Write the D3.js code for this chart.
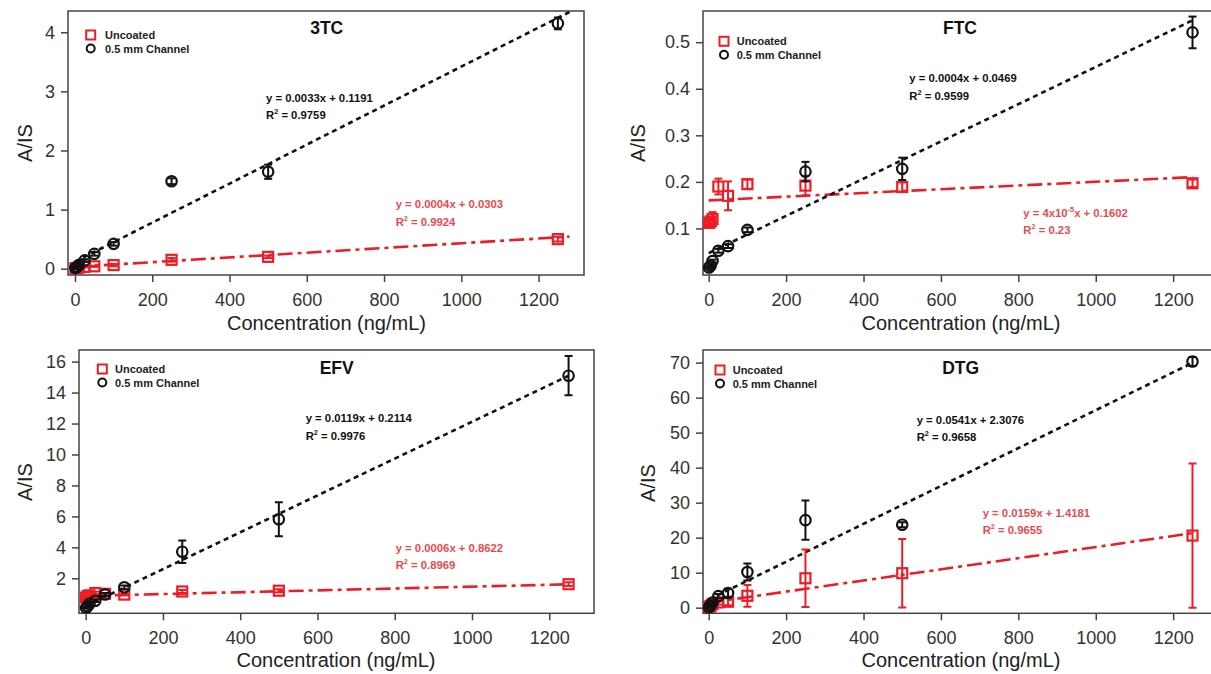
<!DOCTYPE html>
<html>
<head>
<meta charset="utf-8">
<script src="https://cdn.jsdelivr.net/npm/d3@7"></script>
<style>
  body { margin: 0; background: #fff; }
  svg { display: block; font-family: "Liberation Sans", Arial, sans-serif; }
</style>
</head>
<body>
<svg id="chart" width="1211" height="674"></svg>
<script>
// Calibration data: analyte / internal standard ratio vs. concentration
const concentrations = [1, 5, 10, 25, 50, 100, 250, 500, 1250];
const drugs = ["3TC", "FTC", "EFV", "DTG"];
const seriesNames = ["Uncoated", "0.5 mm Channel"];

const uncoated3TC    = [0.01, 0.01, 0.02, 0.03, 0.04, 0.06, 0.15, 0.20, 0.50];
const uncoated3TCErr = [0.005, 0.005, 0.01, 0.01, 0.01, 0.02, 0.03, 0.02, 0.04];
const channel3TC     = [0.01, 0.03, 0.06, 0.14, 0.25, 0.42, 1.48, 1.64, 4.15];
const channel3TCErr  = [0.01, 0.01, 0.01, 0.02, 0.03, 0.03, 0.05, 0.12, 0.10];

const uncoatedFTC    = [0.112, 0.115, 0.120, 0.190, 0.170, 0.195, 0.192, 0.189, 0.197];
const uncoatedFTCErr = [0.005, 0.005, 0.015, 0.017, 0.031, 0.010, 0.021, 0.010, 0.008];
const channelFTC     = [0.016, 0.020, 0.030, 0.052, 0.062, 0.097, 0.222, 0.228, 0.521];
const channelFTCErr  = [0.003, 0.003, 0.003, 0.004, 0.004, 0.005, 0.021, 0.024, 0.034];

const uncoatedEFV    = [0.75, 0.85, 0.90, 1.05, 1.00, 0.95, 1.15, 1.20, 1.62];
const uncoatedEFVErr = [0.05, 0.05, 0.05, 0.08, 0.05, 0.05, 0.10, 0.10, 0.12];
const channelEFV     = [0.08, 0.20, 0.36, 0.55, 0.95, 1.42, 3.72, 5.81, 15.09];
const channelEFVErr  = [0.03, 0.05, 0.05, 0.08, 0.10, 0.12, 0.73, 1.10, 1.27];

const uncoatedDTG    = [0.2, 0.5, 1.0, 1.5, 1.7, 3.4, 8.4, 9.85, 20.6];
const uncoatedDTGErr = [0.1, 0.2, 0.4, 0.6, 1.0, 3.1, 8.2, 9.8, 20.6];
const channelDTG     = [0.1, 0.7, 1.5, 3.3, 4.2, 10.2, 25.0, 23.7, 70.3];
const channelDTGErr  = [0.1, 0.2, 0.3, 0.6, 1.2, 2.4, 5.6, 0.7, 1.3];

const uncoatedValues = [uncoated3TC, uncoatedFTC, uncoatedEFV, uncoatedDTG];
const uncoatedErrors = [uncoated3TCErr, uncoatedFTCErr, uncoatedEFVErr, uncoatedDTGErr];
const channelValues  = [channel3TC, channelFTC, channelEFV, channelDTG];
const channelErrors  = [channel3TCErr, channelFTCErr, channelEFVErr, channelDTGErr];

// Linear fits (slope, intercept, R²) as printed beside each line
const uncoatedSlope      = [0.0004, 0.00004, 0.0006, 0.0159];
const uncoatedSlopeText  = ["0.0004", "4x10^{-5}", "0.0006", "0.0159"];
const uncoatedIntercept  = [0.0303, 0.1602, 0.8622, 1.4181];
const uncoatedR2         = ["0.9924", "0.23", "0.8969", "0.9655"];
const channelSlope       = [0.0033, 0.0004, 0.0119, 0.0541];
const channelSlopeText   = ["0.0033", "0.0004", "0.0119", "0.0541"];
const channelIntercept   = [0.1191, 0.0469, 0.2114, 2.3076];
const channelR2          = ["0.9759", "0.9599", "0.9976", "0.9658"];

const xTicks = [0, 200, 400, 600, 800, 1000, 1200];
const yTicks = [
  [0, 1, 2, 3, 4],
  [0.1, 0.2, 0.3, 0.4, 0.5],
  [2, 4, 6, 8, 10, 12, 14, 16],
  [0, 10, 20, 30, 40, 50, 60, 70]
];
const xDomains = [[-18.1, 1317.6], [-14.7, 1321], [-17.3, 1315.8], [-14.7, 1321]];
const yDomains = [[-0.107, 4.36], [0, 0.567], [-0.26, 16.75], [-1.6, 73.6]];
const fitRanges = [[0, 1280], [0, 1250], [0, 1250], [0, 1250]];

// Panel geometry and text placement
const layout = [
  { left: 68,  top: 11,  right: 584,  bottom: 275,
    title: [326.7, 33.5], legend: [90.7, 35, 105], yTitle: [32, 143], xTitle: [326.5, 330],
    eqCh: [266, 101.5], eqUn: [395.7, 208] },
  { left: 703, top: 11,  right: 1220, bottom: 275,
    title: [960, 33.5], legend: [724, 41.3, 736.7], yTitle: [645, 143], xTitle: [961, 330],
    eqCh: [909.3, 82], eqUn: [1023.3, 216.5] },
  { left: 79,  top: 350, right: 594,  bottom: 613.3,
    title: [336.7, 373.5], legend: [102.3, 369, 115], yTitle: [32, 482], xTitle: [336, 667],
    eqCh: [305.7, 422], eqUn: [395.7, 551.5] },
  { left: 703, top: 350, right: 1220, bottom: 613.3,
    title: [960.7, 373.5], legend: [720, 370, 732.7], yTitle: [655, 483], xTitle: [961, 667],
    eqCh: [916.7, 423.5], eqUn: [982.7, 516.5] }
];

const RED = "#ee1c25";
const RED_TEXT = "#ea4a4f";
const BLACK = "#111";
const FRAME = "#444";

const svg = d3.select("#chart");

// Writes "a^{b}c" style strings with raised superscripts
function richText(textSel, str, size) {
  const parts = str.split(/(\^\{[^}]*\})/).filter(s => s.length);
  let pendingDy = 0;
  parts.forEach(p => {
    if (p.startsWith("^{")) {
      textSel.append("tspan").attr("dy", -5 + pendingDy)
        .attr("font-size", size * 0.65).text(p.slice(2, -1));
      pendingDy = 5;
    } else {
      textSel.append("tspan").attr("dy", pendingDy).text(p);
      pendingDy = 0;
    }
  });
}

function equation(g, x0, y0, slopeText, intercept, r2, color) {
  const size = 11.3;
  const t1 = g.append("text").attr("x", x0).attr("y", y0)
    .attr("font-size", size).attr("font-weight", "bold").attr("fill", color);
  richText(t1, `y = ${slopeText}x + ${intercept}`, size);
  const t2 = g.append("text").attr("x", x0).attr("y", y0 + 17.5)
    .attr("font-size", size).attr("font-weight", "bold").attr("fill", color);
  richText(t2, `R^{2} = ${r2}`, size);
}

drugs.forEach((name, i) => {
  const L = layout[i];
  const x = d3.scaleLinear().domain(xDomains[i]).range([L.left, L.right]);
  const y = d3.scaleLinear().domain(yDomains[i]).range([L.bottom, L.top]);
  const g = svg.append("g");

  const clipId = "plot-clip-" + i;
  svg.append("clipPath").attr("id", clipId).append("rect")
    .attr("x", L.left).attr("y", L.top)
    .attr("width", L.right - L.left).attr("height", L.bottom - L.top);

  // Axes
  const xAxis = g.append("g").attr("transform", `translate(0,${L.bottom})`)
    .call(d3.axisBottom(x).tickValues(xTicks).tickSize(7).tickPadding(11).tickSizeOuter(0)
      .tickFormat(d3.format("d")));
  const yAxis = g.append("g").attr("transform", `translate(${L.left},0)`)
    .call(d3.axisLeft(y).tickValues(yTicks[i]).tickSize(7).tickPadding(6).tickSizeOuter(0)
      .tickFormat(d3.format("~g")));
  [xAxis, yAxis].forEach(a => {
    a.select(".domain").remove();
    a.selectAll(".tick line").attr("stroke", FRAME).attr("stroke-width", 1.5);
    a.selectAll(".tick text").attr("font-size", 18).attr("fill", "#333")
      .attr("font-family", "Liberation Sans, Arial, sans-serif");
  });

  // Frame
  g.append("rect").attr("x", L.left).attr("y", L.top)
    .attr("width", L.right - L.left).attr("height", L.bottom - L.top)
    .attr("fill", "none").attr("stroke", FRAME).attr("stroke-width", 1.5);

  // Axis titles
  g.append("text").attr("x", L.xTitle[0]).attr("y", L.xTitle[1])
    .attr("text-anchor", "middle").attr("font-size", 20).attr("fill", "#222")
    .text("Concentration (ng/mL)");
  g.append("text").attr("transform", `translate(${L.yTitle[0]},${L.yTitle[1]}) rotate(-90)`)
    .attr("text-anchor", "middle").attr("font-size", 20).attr("fill", "#222")
    .text("A/IS");

  // Panel title
  g.append("text").attr("x", L.title[0]).attr("y", L.title[1])
    .attr("text-anchor", "middle").attr("font-size", 17.5).attr("font-weight", "bold")
    .attr("fill", "#111").text(name);

  const plot = g.append("g").attr("clip-path", `url(#${clipId})`);

  // Fit lines
  const fitLine = (slope, intercept) => d3.line()
    .x(d => x(d)).y(d => y(slope * d + intercept));
  plot.append("path").datum(fitRanges[i])
    .attr("d", fitLine(uncoatedSlope[i], uncoatedIntercept[i]))
    .attr("fill", "none").attr("stroke", RED).attr("stroke-width", 2.6)
    .attr("stroke-dasharray", "15,5,4,5");
  plot.append("path").datum(fitRanges[i])
    .attr("d", fitLine(channelSlope[i], channelIntercept[i]))
    .attr("fill", "none").attr("stroke", BLACK).attr("stroke-width", 2.6)
    .attr("stroke-dasharray", "5,4");

  // Points with error bars
  function drawSeries(values, errors, color, shape) {
    const pts = concentrations.map((c, k) => ({ c, v: values[k], e: errors[k] }));
    const sg = plot.append("g");
    const eb = sg.selectAll("g.err").data(pts).join("g").attr("class", "err")
      .attr("stroke", color).attr("stroke-width", 2);
    eb.append("line")
      .attr("x1", d => x(d.c)).attr("x2", d => x(d.c))
      .attr("y1", d => y(d.v - d.e)).attr("y2", d => y(d.v + d.e));
    eb.append("line")
      .attr("x1", d => x(d.c) - 4).attr("x2", d => x(d.c) + 4)
      .attr("y1", d => y(d.v - d.e)).attr("y2", d => y(d.v - d.e));
    eb.append("line")
      .attr("x1", d => x(d.c) - 4).attr("x2", d => x(d.c) + 4)
      .attr("y1", d => y(d.v + d.e)).attr("y2", d => y(d.v + d.e));
    if (shape === "square") {
      sg.selectAll("rect").data(pts).join("rect")
        .attr("x", d => x(d.c) - 5).attr("y", d => y(d.v) - 5)
        .attr("width", 10).attr("height", 10)
        .attr("fill", "none").attr("stroke", color).attr("stroke-width", 2.2);
    } else {
      sg.selectAll("circle").data(pts).join("circle")
        .attr("cx", d => x(d.c)).attr("cy", d => y(d.v)).attr("r", 5.2)
        .attr("fill", "none").attr("stroke", color).attr("stroke-width", 2.2);
    }
  }
  drawSeries(uncoatedValues[i], uncoatedErrors[i], RED, "square");
  drawSeries(channelValues[i], channelErrors[i], BLACK, "circle");

  // Legend
  const [lx, ly, tx] = L.legend;
  const leg = g.append("g");
  leg.append("rect").attr("x", lx - 4.5).attr("y", ly - 4.5).attr("width", 9).attr("height", 9)
    .attr("fill", "none").attr("stroke", RED).attr("stroke-width", 2);
  leg.append("circle").attr("cx", lx).attr("cy", ly + 13.5).attr("r", 4)
    .attr("fill", "none").attr("stroke", BLACK).attr("stroke-width", 2);
  seriesNames.forEach((s, k) => {
    leg.append("text").attr("x", tx).attr("y", ly + 4 + k * 13.5)
      .attr("font-size", 11).attr("font-weight", "bold").attr("fill", "#222").text(s);
  });

  // Fit equations
  equation(g, L.eqCh[0], L.eqCh[1], channelSlopeText[i], channelIntercept[i], channelR2[i], "#111");
  equation(g, L.eqUn[0], L.eqUn[1], uncoatedSlopeText[i], uncoatedIntercept[i], uncoatedR2[i], RED_TEXT);
});
</script>
</body>
</html>
